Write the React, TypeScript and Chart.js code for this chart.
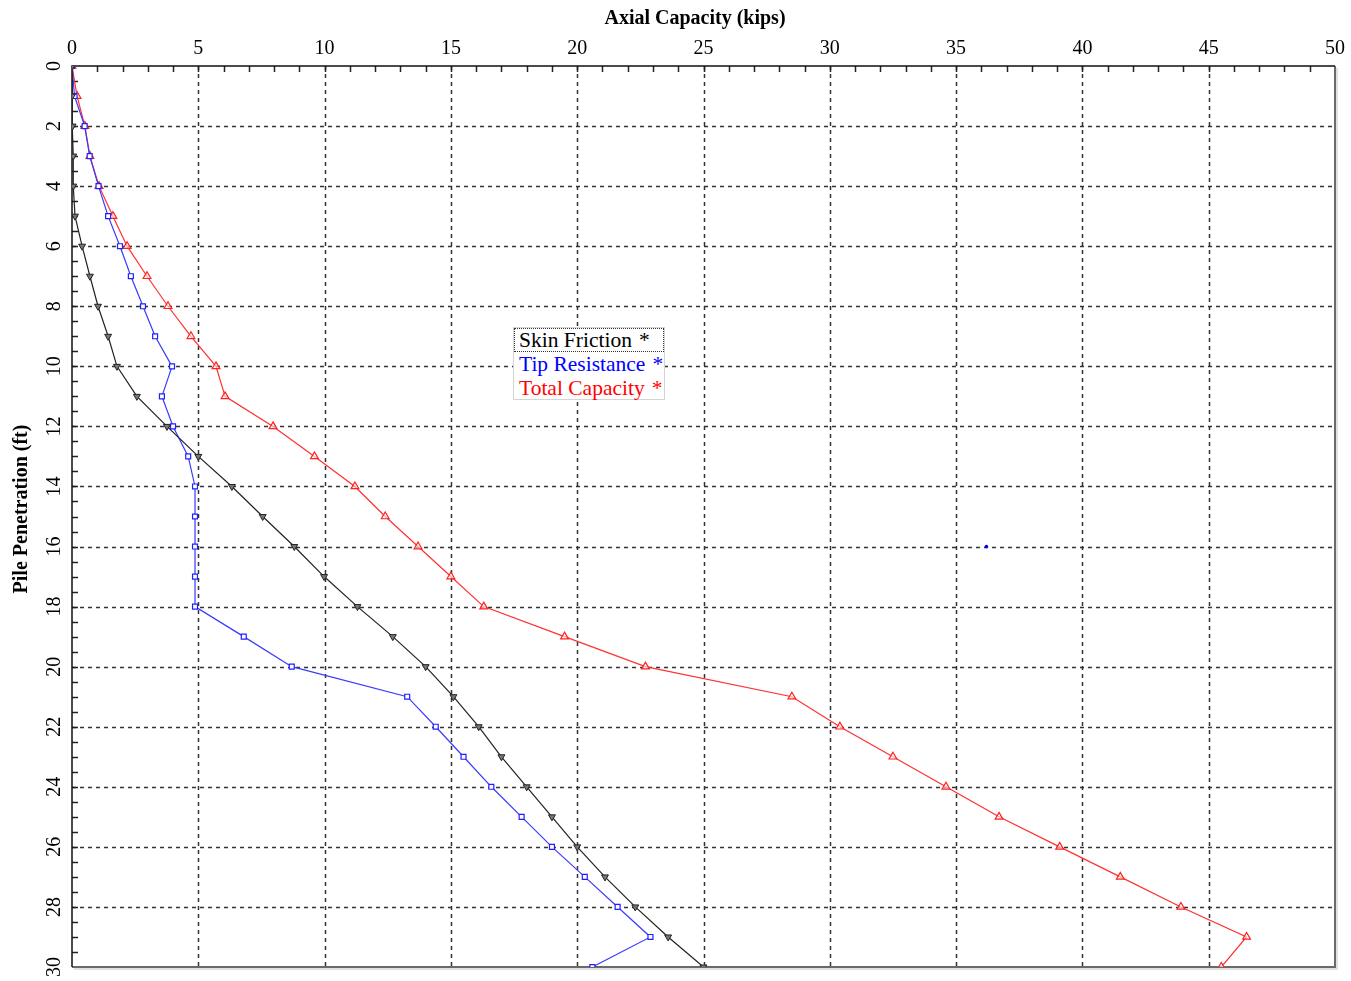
import React, { useEffect, useRef } from 'react';
import { Chart, registerables } from 'chart.js';

Chart.register(...registerables);

const depths = [0, 1, 2, 3, 4, 5, 6, 7, 8, 9, 10, 11, 12, 13, 14, 15, 16, 17, 18, 19, 20, 21, 22, 23, 24, 25, 26, 27, 28, 29, 30];
const skinFriction = [0, 0, 0.02, 0.05, 0.05, 0.12, 0.4, 0.71, 1.03, 1.43, 1.78, 2.57, 3.76, 5.0, 6.33, 7.55, 8.8, 9.98, 11.3, 12.7, 14.0, 15.1, 16.1, 17.0, 18.0, 19.0, 20.0, 21.1, 22.3, 23.6, 25.0];
const tipResistance = [0, 0.1, 0.5, 0.7, 1.05, 1.43, 1.9, 2.33, 2.81, 3.29, 3.96, 3.56, 4.0, 4.6, 4.87, 4.87, 4.87, 4.87, 4.87, 6.8, 8.7, 13.27, 14.4, 15.5, 16.6, 17.8, 19.0, 20.3, 21.6, 22.9, 20.6];
const totalCapacity = [0, 0.2, 0.51, 0.71, 1.07, 1.62, 2.18, 2.97, 3.8, 4.71, 5.7, 6.06, 7.96, 9.6, 11.2, 12.4, 13.7, 15.0, 16.3, 19.5, 22.7, 28.5, 30.4, 32.5, 34.6, 36.7, 39.1, 41.5, 43.9, 46.5, 45.5];
const strayX = [36.2];
const strayY = [16];

const xTickValues = [0, 5, 10, 15, 20, 25, 30, 35, 40, 45, 50];
const yTickValues = [0, 2, 4, 6, 8, 10, 12, 14, 16, 18, 20, 22, 24, 26, 28, 30];

const xTitle = 'Axial Capacity (kips)';
const yTitle = 'Pile Penetration (ft)';

const legendItems = [
  { label: 'Skin Friction', color: '#000000' },
  { label: 'Tip Resistance', color: '#0000ff' },
  { label: 'Total Capacity', color: '#ff0000' },
];

const SERIF = '"Liberation Serif", "Times New Roman", serif';

const toPoints = (xs: number[], ys: number[]) => xs.map((x, i) => ({ x, y: ys[i] }));

const gridPlugin = {
  id: 'customGrid',
  beforeDatasetsDraw(chart: any) {
    const { ctx, chartArea, scales } = chart;
    const xs = scales.x;
    const ys = scales.y;
    const { left, right, top, bottom } = chartArea;
    ctx.save();
    ctx.strokeStyle = '#333333';
    ctx.lineWidth = 1.5;
    ctx.setLineDash([4, 4]);
    xTickValues.forEach((v) => {
      if (v <= 0 || v >= 50) return;
      const px = Math.round(xs.getPixelForValue(v)) + 0.5;
      ctx.beginPath();
      ctx.moveTo(px, top);
      ctx.lineTo(px, bottom);
      ctx.stroke();
    });
    yTickValues.forEach((v) => {
      if (v <= 0 || v >= 30) return;
      const py = Math.round(ys.getPixelForValue(v)) + 0.5;
      ctx.beginPath();
      ctx.moveTo(left, py);
      ctx.lineTo(right, py);
      ctx.stroke();
    });
    ctx.setLineDash([]);
    ctx.strokeStyle = '#222';
    ctx.lineWidth = 1.5;
    for (let v = 1; v < 50; v++) {
      const px = Math.round(xs.getPixelForValue(v)) + 0.5;
      ctx.beginPath();
      ctx.moveTo(px, top);
      ctx.lineTo(px, top + 6);
      ctx.stroke();
    }
    for (let v = 0.5; v < 30; v += 0.5) {
      const py = Math.round(ys.getPixelForValue(v)) + 0.5;
      ctx.beginPath();
      ctx.moveTo(left, py);
      ctx.lineTo(left + 6, py);
      ctx.stroke();
    }
    ctx.strokeStyle = '#6a6a6a';
    ctx.lineWidth = 2;
    ctx.beginPath();
    ctx.moveTo(right, top);
    ctx.lineTo(right, bottom);
    ctx.lineTo(left, bottom);
    ctx.stroke();
    ctx.strokeStyle = 'rgba(0,0,0,0.12)';
    ctx.lineWidth = 2;
    ctx.beginPath();
    ctx.moveTo(right + 2, top + 2);
    ctx.lineTo(right + 2, bottom + 2);
    ctx.lineTo(left + 2, bottom + 2);
    ctx.stroke();
    ctx.strokeStyle = '#111';
    ctx.lineWidth = 1.5;
    ctx.beginPath();
    ctx.moveTo(left, bottom);
    ctx.lineTo(left, top);
    ctx.lineTo(right, top);
    ctx.stroke();
    ctx.restore();
  },
  afterDraw(chart: any) {
    const { ctx, scales } = chart;
    const ys = scales.y;
    ctx.save();
    ctx.fillStyle = '#000';
    ctx.font = `20px ${SERIF}`;
    ctx.textAlign = 'center';
    ctx.textBaseline = 'middle';
    yTickValues.forEach((v) => {
      const py = ys.getPixelForValue(v);
      ctx.save();
      ctx.translate(55, py);
      ctx.rotate(-Math.PI / 2);
      ctx.fillText(String(v), 0, 0);
      ctx.restore();
    });
    ctx.font = `bold 20px ${SERIF}`;
    ctx.fillText(xTitle, 695, 19);
    ctx.save();
    ctx.translate(22, 509);
    ctx.rotate(-Math.PI / 2);
    ctx.fillText(yTitle, 0, 0);
    ctx.restore();
    ctx.restore();
  },
};

export default function App() {
  const canvasRef = useRef<HTMLCanvasElement | null>(null);

  useEffect(() => {
    document.body.style.margin = '0';
    const canvas = canvasRef.current;
    if (!canvas) return;
    const chart = new Chart(canvas, {
      type: 'scatter',
      data: {
        datasets: [
          {
            label: 'Skin Friction',
            data: toPoints(skinFriction, depths),
            showLine: true,
            borderColor: '#222222',
            borderWidth: 1.2,
            pointStyle: 'triangle',
            pointRotation: 180,
            pointRadius: 4,
            pointBorderWidth: 1,
            pointBorderColor: '#222222',
            pointBackgroundColor: '#777777',
          },
          {
            label: 'Tip Resistance',
            data: toPoints(tipResistance, depths),
            showLine: true,
            borderColor: '#3a3aff',
            borderWidth: 1.2,
            pointStyle: 'rect',
            pointRadius: 3.5,
            pointBorderWidth: 1.2,
            pointBorderColor: '#2020ff',
            pointBackgroundColor: '#ffffff',
          },
          {
            label: 'Total Capacity',
            data: toPoints(totalCapacity, depths),
            showLine: true,
            borderColor: '#ff3030',
            borderWidth: 1.2,
            pointStyle: 'triangle',
            pointRadius: 4.5,
            pointBorderWidth: 1.2,
            pointBorderColor: '#ff2020',
            pointBackgroundColor: 'rgba(255,255,255,0.6)',
          },
          {
            label: 'stray',
            data: toPoints(strayX, strayY),
            showLine: false,
            pointStyle: 'circle',
            pointRadius: 1.8,
            pointBorderWidth: 0,
            pointBackgroundColor: '#0000ff',
          },
        ],
      },
      options: {
        animation: false,
        responsive: true,
        maintainAspectRatio: false,
        layout: { padding: { left: 0, top: 0, right: 16, bottom: 14 } },
        plugins: {
          legend: { display: false },
          tooltip: { enabled: false },
        },
        scales: {
          x: {
            type: 'linear',
            position: 'top',
            min: 0,
            max: 50,
            afterFit: (scale: any) => {
              scale.height = 66;
            },
            ticks: {
              stepSize: 5,
              padding: 5,
              color: '#000',
              font: { family: SERIF, size: 20 },
            },
            grid: { display: false, drawTicks: false },
            border: { display: false },
            title: { display: false },
          },
          y: {
            type: 'linear',
            position: 'left',
            reverse: true,
            min: 0,
            max: 30,
            afterFit: (scale: any) => {
              scale.width = 72;
            },
            ticks: { stepSize: 2, display: false },
            grid: { display: false, drawTicks: false },
            border: { display: false },
            title: { display: false },
          },
        },
      },
      plugins: [gridPlugin],
    });
    return () => chart.destroy();
  }, []);

  return (
    <div style={{ position: 'absolute', left: 0, top: 0, width: 1351, height: 981, background: '#fff' }}>
      <canvas ref={canvasRef} />
      <div
        style={{
          position: 'absolute',
          left: 513,
          top: 327,
          width: 152,
          height: 73,
          border: '1px solid #d4d4d4',
          background: '#fff',
          fontFamily: SERIF,
          fontSize: 21.5,
          lineHeight: '24px',
          boxSizing: 'border-box',
        }}
      >
        {legendItems.map((item, i) => (
          <div
            key={item.label}
            style={{
              color: item.color,
              paddingLeft: 5,
              whiteSpace: 'nowrap',
              height: 24,
              outline: i === 0 ? '1px dotted #333' : 'none',
              outlineOffset: -1,
            }}
          >
            {item.label}
            <span style={{ marginLeft: 7 }}>*</span>
          </div>
        ))}
      </div>
    </div>
  );
}
